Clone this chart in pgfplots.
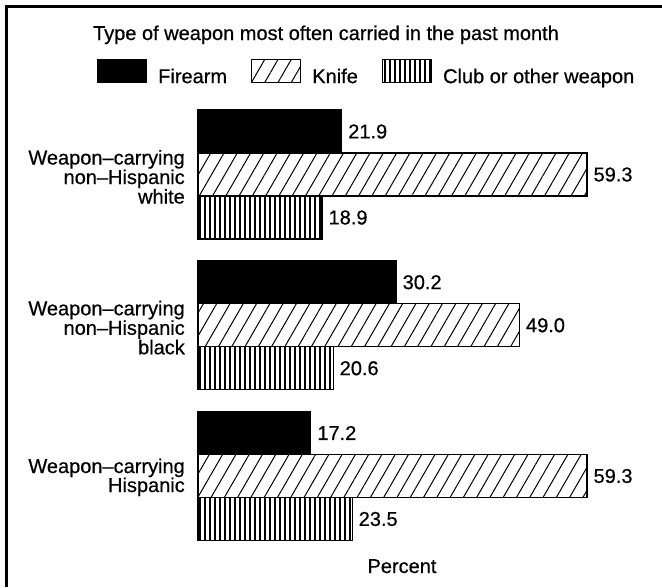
\documentclass[border=0pt]{standalone}
\usepackage{fontspec}
\setmainfont{Liberation Sans}[FakeBold=0.6]
\usepackage{pgfplots}
\pgfplotsset{compat=1.18}
\usetikzlibrary{patterns.meta}
\begin{document}
\begin{tikzpicture}[font=\fontsize{20}{24}\selectfont]
\useasboundingbox (0pt,0pt) rectangle (662pt,-587pt);
\draw[line width=3pt] (6.5pt,-587pt) -- (6.5pt,-6.5pt) -- (662pt,-6.5pt);
\node[anchor=base, inner sep=0pt] at (326pt,-40pt) {Type of weapon most often carried in the past month};
\node[anchor=base, inner sep=0pt] at (402pt,-573pt) {Percent};
\begin{axis}[
  at={(198pt,-476pt)}, anchor=origin,
  scale only axis, width=389pt, height=452.25pt,
  xmin=0, xmax=59.3, ymin=-0.5, ymax=2.5,
  hide axis, clip=false,
  xbar, bar width=43pt,
  point meta=x,
  /pgf/number format/assume math mode=true,
  nodes near coords={\pgfmathprintnumber[fixed,fixed zerofill,precision=1]{\pgfplotspointmeta}},
  nodes near coords style={font=\fontsize{20}{24}\selectfont, anchor=west, inner sep=0pt, xshift=6pt, text=black},
  legend columns=3,
  legend cell align=left,
  legend image code/.code={\draw[#1, line width=1.2pt] (0pt,-6pt) rectangle (49pt,17pt);},
  legend style={draw=none, fill=none, inner sep=0pt, outer sep=0pt,
    at={(-0.2596,1.0887)}, anchor=north west,
    font=\fontsize{20}{24}\selectfont,
    nodes={inner sep=0pt},
    /tikz/every odd column/.append style={column sep=11pt},
    /tikz/every even column/.append style={column sep=24pt}},
]
\addplot[fill=black, draw=black, line width=1.2pt, bar shift=43pt]
  coordinates {(21.9,2) (30.2,1) (17.2,0)};
\addlegendentry{Firearm}
\addplot[draw=black, line width=1.2pt, bar shift=0pt,
  pattern={Lines[angle=60, distance=11.5pt, line width=1pt]}]
  coordinates {(59.3,2) (49.0,1) (59.3,0)};
\addlegendentry{Knife}
\addplot[draw=black, line width=1.2pt, bar shift=-43pt,
  pattern={Lines[angle=90, distance=5pt, line width=1.1pt]}]
  coordinates {(18.9,2) (20.6,1) (23.5,0)};
\addlegendentry{Club or other weapon}

\node[anchor=base east, inner sep=0pt] at (axis cs:0,2) [xshift=-13pt, yshift=10pt] {Weapon--carrying};
\node[anchor=base east, inner sep=0pt] at (axis cs:0,2) [xshift=-13pt, yshift=-9.5pt] {non--Hispanic};
\node[anchor=base east, inner sep=0pt] at (axis cs:0,2) [xshift=-13pt, yshift=-29pt] {white};
\node[anchor=base east, inner sep=0pt] at (axis cs:0,1) [xshift=-13pt, yshift=10pt] {Weapon--carrying};
\node[anchor=base east, inner sep=0pt] at (axis cs:0,1) [xshift=-13pt, yshift=-9.5pt] {non--Hispanic};
\node[anchor=base east, inner sep=0pt] at (axis cs:0,1) [xshift=-13pt, yshift=-29pt] {black};
\node[anchor=base east, inner sep=0pt] at (axis cs:0,0) [xshift=-13pt, yshift=3pt] {Weapon--carrying};
\node[anchor=base east, inner sep=0pt] at (axis cs:0,0) [xshift=-13pt, yshift=-16pt] {Hispanic};
\end{axis}
\end{tikzpicture}
\end{document}
